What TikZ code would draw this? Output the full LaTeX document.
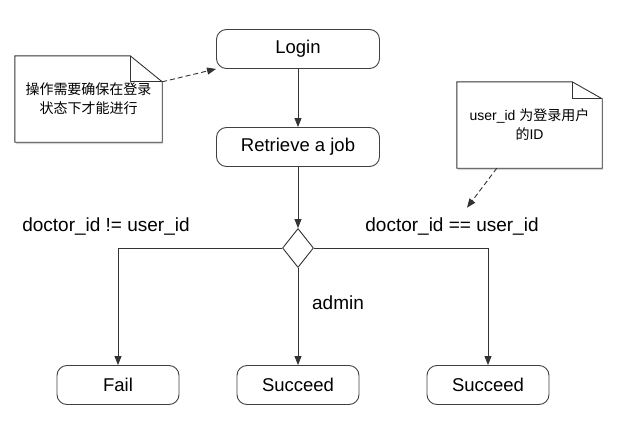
\documentclass[tikz,border=0pt]{standalone}
\usepackage{fontspec}
\setmainfont{Liberation Sans}
\newfontfamily\cjk{Noto Sans CJK SC}
\usetikzlibrary{arrows.meta,shapes.geometric,shadows,calc,backgrounds}

\tikzset{
  state/.style={draw=black!75, rounded corners=10pt, minimum width=122pt, minimum height=39pt,
    font=\fontsize{18.5}{22}\selectfont, line width=0.9pt},
  choice/.style={draw=black!80, diamond, minimum width=31pt, minimum height=39pt, inner sep=0pt, line width=0.9pt},
  flow/.style={draw=black!80, line width=0.9pt, -{Triangle[length=9pt,width=7pt]}},
  hint/.style={flow, dash pattern=on 5pt off 3pt},
  guard/.style={font=\fontsize{19}{23}\selectfont},
  notetext/.style={font=\fontsize{14}{19}\selectfont, align=center, minimum width=145pt, minimum height=86pt, inner sep=0pt},
  notepaper/.style={draw=black!80, fill=white, line width=0.9pt,
    drop shadow={shadow xshift=1pt, shadow yshift=-2pt, fill=black!40, opacity=0.4}},
  fold/.style={draw=black!80, line width=0.9pt},
}

\begin{document}
\begin{tikzpicture}[x=1pt,y=-1pt]
	\useasboundingbox (0,0) rectangle (619,439);
	
	% states
	\node[state, minimum width=163pt] (login) at (298,49) {Login};
	\node[state, minimum width=163pt] (job) at (298,147) {Retrieve a job};
	\node[choice] (check) at (298,248) {};
	\node[state] (fail) at (118,385) {Fail};
	\node[state] (okAdmin) at (298,385) {Succeed};
	\node[state] (okOwner) at (488,385) {Succeed};
	
	% guards
	\node[guard] (neq) at (106,227) {doctor\_id != user\_id};
	\node[guard] (eq) at (452,227) {doctor\_id == user\_id};
	\node[guard] (adm) at (338,303) {admin};
	
	% transitions
	\draw[flow] (login) -- (job);
	\draw[flow] (job) -- (check);
	\draw[flow] (check.west) -| (fail.north);
	\draw[flow] (check) -- (okAdmin);
	\draw[flow] (check.east) -| (okOwner.north);
	
	% notes
	\node[notetext, minimum width=147pt, font=\cjk\fontsize{14}{19}\selectfont] (loginNote) at (88.5,99) {操作需要确保在登录\\状态下才能进行};
	\node[notetext] (idNote) at (529.5,125) {user\_id {\cjk 为登录用户}\\{\cjk 的}ID};
	
	\begin{scope}[on background layer]
		\filldraw[notepaper] (loginNote.south west) -- (loginNote.north west) -- ($(loginNote.north east)+(-32,0)$)
			-- ($(loginNote.north east)+(0,26)$) -- (loginNote.south east) -- cycle;
		\draw[fold] ($(loginNote.north east)+(-32,0)$) -- ++(0,26) -- ($(loginNote.north east)+(0,26)$);
		\filldraw[notepaper] (idNote.south west) -- (idNote.north west) -- ($(idNote.north east)+(-30,0)$)
			-- ($(idNote.north east)+(0,17)$) -- (idNote.south east) -- cycle;
		\draw[fold] ($(idNote.north east)+(-30,0)$) -- ++(0,17) -- ($(idNote.north east)+(0,17)$);
	\end{scope}
	
	\coordinate (loginTail) at ($(loginNote.north east)+(0,26)$);
	\coordinate (idTail) at ($(idNote.south west)+(40,0)$);
	\coordinate (idHead) at ($(eq.north)+(15,-7)$);
	\draw[hint] (loginTail) -- (login.south west);
	\draw[hint] (idTail) -- (idHead);
\end{tikzpicture}
\end{document}
